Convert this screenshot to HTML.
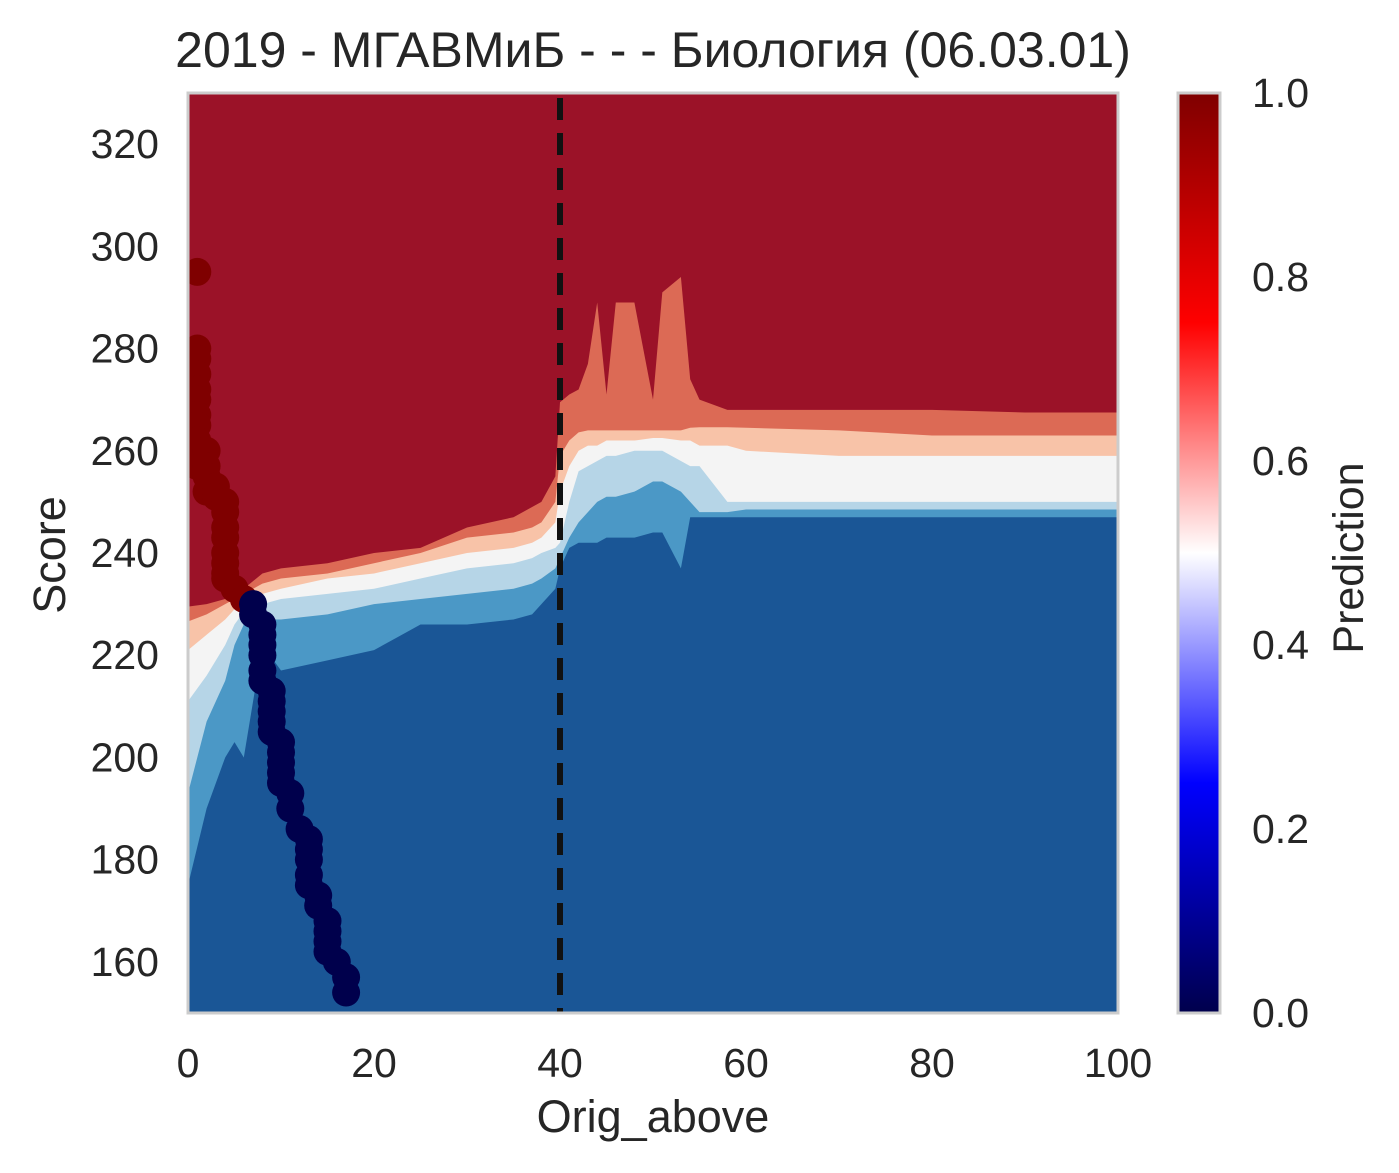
<!DOCTYPE html>
<html><head><meta charset="utf-8"><style>
body{margin:0;background:#fff;}
svg{display:block;font-family:"Liberation Sans","DejaVu Sans",sans-serif;}
</style></head><body>
<svg id="chart" width="1399" height="1173" viewBox="0 0 1399 1173">
<defs>
<linearGradient id="seis" x1="0" y1="1" x2="0" y2="0">
<stop offset="0" stop-color="#00004c"/><stop offset="0.25" stop-color="#0000ff"/>
<stop offset="0.5" stop-color="#ffffff"/><stop offset="0.75" stop-color="#ff0000"/>
<stop offset="1" stop-color="#7f0000"/></linearGradient>
<clipPath id="pc"><rect x="188" y="93" width="930" height="920"/></clipPath>
</defs>
<text x="653" y="67" font-size="50" text-anchor="middle" fill="#262626">2019 - МГАВМиБ - - - Биология (06.03.01)</text>
<g id="plot" clip-path="url(#pc)"></g>
<rect x="188" y="93" width="930" height="920" fill="none" stroke="#cccccc" stroke-width="3"/>
<g id="axes"></g>
<text x="653" y="1132" font-size="45" text-anchor="middle" fill="#262626">Orig_above</text>
<text transform="translate(65,555) rotate(-90)" font-size="45" text-anchor="middle" fill="#262626">Score</text>
<rect x="1178" y="93" width="42" height="920" fill="url(#seis)" stroke="#cccccc" stroke-width="3"/>
<text transform="translate(1363,558) rotate(-90)" font-size="43" text-anchor="middle" fill="#262626">Prediction</text>
</svg>
<script>
const xs = [0,2,4,5,6,8,10,15,20,25,30,35,37,38,39.5,40,41,42,43,44,45,46,48,50,51,53,54,55,58,60,70,80,90,100];
const bDark  = [175,190,200,203,200,222,217,219,221,226,226,227,228,230,233,237,241,242,242,242,243,243,243,244,244,237,247,247,247,247,247,247,247,247];
const bMed   = [193,207,215,222,226,227,227,228,230,231,232,233,234,235,237,239,243,246,248,250,251,251,252,254,254,252,250,248,248,248.5,248.5,248.5,248.5,248.5];
const bLight = [211,216,222,226,228.5,230,231,232,233,235,237,238,239,240,241,242,250,256,257,258,259,259,260,260,260,258,257,257,250,250,250,250,250,250];
const bWhite = [221,224,227,229,230.5,232,233,235,236,238,240,241,242,243,246,252,257,260,261,261,262,262,262,262.5,262.5,262,262,261,261,260,259,259,259,259];
const bPale  = [226.6,228,230,231,232,234,235,236,238,240,243,244,245,246,250,259,262,263.6,264,264,264,264,264,264,264,264,264.5,264.6,264.6,264.5,264,263,263,263];
const bSalm  = [229.5,230,231,232,233,236,237,238,240,241,245,247,249,250,255,269.5,271,272,277,289,271,289,289,270,291,294,274,270,268,268,268,268,267.5,267.5];
const bandColors = ["#9b1228","#dc6a55","#f8c3a8","#f4f4f4","#b6d5e7","#4b98c6","#1a5696"];
const bandNames = ["band-0.83","band-0.67","band-0.5","band-0.33","band-0.17","band-0"];
const redX = [1,1,1,1,1,1,1,1,1,1,1,2,2,2,2,3,3,4,4,4,4,4,4,4,4,5,6];
const redY = [295,280,278,275,272,270,267,265,262,260,257,260,257,255,252,253,251,250,248,245,243,240,238,236,235,233,231];
const navyX = [7,7,8,8,8,8,8,8,9,9,9,9,9,10,10,10,10,10,11,11,12,13,13,13,13,13,14,14,15,15,15,15,16,17,17];
const navyY = [230,228,226,224,222,220,217,215,213,211,209,207,205,203,201,199,197,195,193,190,186,184,182,180,177,175,173,171,168,166,164,162,160,157,154];
const xTicks = [0,20,40,60,80,100];
const yTicks = [160,180,200,220,240,260,280,300,320];
const cTicks = ["0.0","0.2","0.4","0.6","0.8","1.0"];
const cutoff = 40;

const NS="http://www.w3.org/2000/svg";
const X0=188,X1=1118,Y0=1013,Y1=93,XMIN=0,XMAX=100,YMIN=150,YMAX=330;
function sx(v){return X0+(v-XMIN)/(XMAX-XMIN)*(X1-X0);}
function sy(v){return Y0-(v-YMIN)/(YMAX-YMIN)*(Y0-Y1);}
function mk(tag,attrs,parent){const e=document.createElementNS(NS,tag);for(const k in attrs)e.setAttribute(k,attrs[k]);parent.appendChild(e);return e;}
const plot=document.getElementById('plot'), axes=document.getElementById('axes');

const bg=mk('rect',{x:X0,y:Y1,width:X1-X0,height:Y0-Y1,fill:bandColors[0]},plot);


const bounds=[bSalm,bPale,bWhite,bLight,bMed,bDark];
bounds.forEach((b,i)=>{
  let d=`M${sx(xs[0])},${Y0+5}`;
  xs.forEach((x,j)=>{d+=` L${sx(x)},${sy(b[j])}`;});
  d+=` L${sx(xs[xs.length-1])},${Y0+5} Z`;
  const p=mk('path',{d:d,fill:bandColors[i+1]},plot);
  
  
});
const dl=mk('line',{x1:sx(cutoff),x2:sx(cutoff),y1:Y1+5,y2:Y0,stroke:"#111",'stroke-width':6,'stroke-dasharray':"22,13"},plot);


redX.forEach((x,i)=>{
  const c=mk('circle',{cx:sx(x),cy:sy(redY[i]),r:14,fill:"#7f0000"},plot);
  
  
});
navyX.forEach((x,i)=>{
  const c=mk('circle',{cx:sx(x),cy:sy(navyY[i]),r:14,fill:"#00004c"},plot);
  
  
});
xTicks.forEach(t=>{
  const e=mk('text',{x:sx(t),y:1077,'font-size':41,'text-anchor':'middle',fill:'#262626'},axes);
  e.textContent=t;
  
  
});
yTicks.forEach(t=>{
  const e=mk('text',{x:159,y:sy(t)+14,'font-size':41,'text-anchor':'end',fill:'#262626'},axes);
  e.textContent=t;
  
  
});
cTicks.forEach((t,i)=>{
  const e=mk('text',{x:1252,y:Y0-i*(Y0-Y1)/5+14,'font-size':41,fill:'#262626'},axes);
  e.textContent=t;
  
  
});
</script>
</body></html>
